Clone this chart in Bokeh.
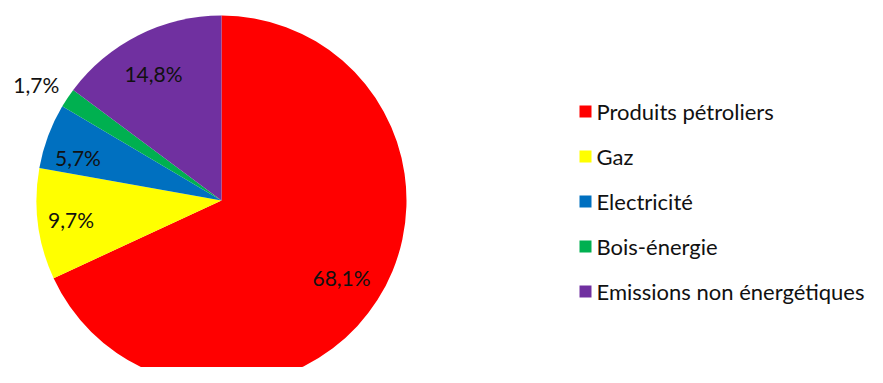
import math
from bokeh.plotting import figure
from bokeh.models import Range1d, ColumnDataSource
from bokeh.core.properties import value
from bokeh.embed import file_html
from bokeh.resources import INLINE

categories = ["Produits pétroliers", "Gaz", "Electricité", "Bois-énergie", "Emissions non énergétiques"]
shares = [68.1, 9.7, 5.7, 1.7, 14.8]
labels = ["68,1%", "9,7%", "5,7%", "1,7%", "14,8%"]
colors = ["#FF0000", "#FFFF00", "#0070C0", "#00B050", "#7030A0"]

# layout (screen pixel coordinates)
W, H = 867, 367
CX, CY, R = 221, 200, 185
label_r = [0.77, 0.82, 0.81, 1.18, 0.78]
label_da = [0.0, 0.0, 3.7, 1.7, 1.5]
FONT = "Lato"

def sy(y):
    return 383 - y

p = figure(width=W, height=H, output_backend="svg", toolbar_location=None,
           x_range=Range1d(0, W), y_range=Range1d(383 - H, 383),
           min_border=0, outline_line_color=None)
p.axis.visible = False
p.grid.visible = False
p.background_fill_color = "white"
p.border_fill_color = "white"

total = sum(shares)
starts, ends, lx, ly = [], [], [], []
a = math.pi / 2
for s, lr, da in zip(shares, label_r, label_da):
    ext = 2 * math.pi * s / total
    starts.append(a)
    ends.append(a - ext)
    mid = a - ext / 2 + math.radians(da)
    lx.append(CX + lr * R * math.cos(mid))
    ly.append(sy(CY) + lr * R * math.sin(mid))
    a -= ext

src = ColumnDataSource(dict(start=starts, end=ends, color=colors, lx=lx, ly=ly, label=labels,
                            x=[CX] * 5, y=[sy(CY)] * 5))
p.wedge(x="x", y="y", radius=R, radius_units="screen", start_angle="start", end_angle="end",
        direction="clock", fill_color="color", line_color=None, source=src)
p.text(x="lx", y="ly", text="label", source=src, text_align="center", text_baseline="middle",
       text_font=value(FONT), text_font_size="21px", text_color="#111111")

# legend
LX, LY0, DY = 585, 111, 45
leg = ColumnDataSource(dict(x=[LX] * 5, y=[sy(LY0 + i * DY) for i in range(5)],
                            tx=[LX + 11] * 5, color=colors, name=categories))
p.rect(x="x", y="y", width=12, height=12, width_units="screen", height_units="screen",
       fill_color="color", line_color=None, source=leg)
p.text(x="tx", y="y", text="name", source=leg, text_align="left", text_baseline="middle",
       text_font=value(FONT), text_font_size="22px", text_color="#111111")

open("out.html", "w").write(file_html(p, INLINE))
